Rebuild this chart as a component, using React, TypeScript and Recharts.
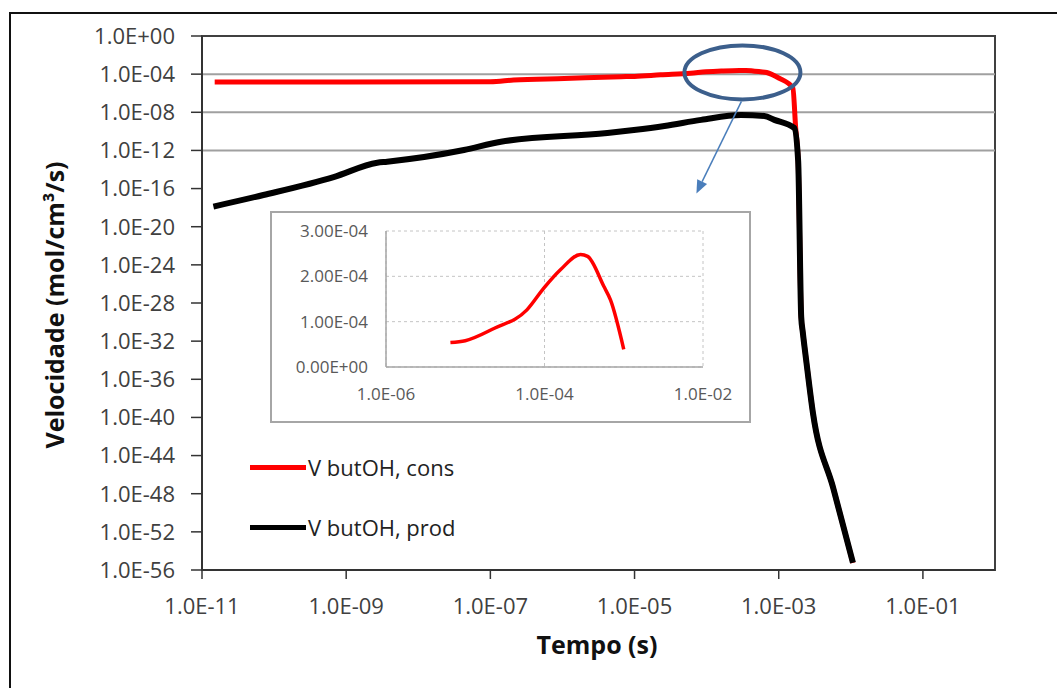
import React from 'react';
import {
  LineChart,
  Line,
  XAxis,
  YAxis,
  CartesianGrid,
  ReferenceLine,
  ReferenceArea,
  ReferenceDot,
  Legend,
} from 'recharts';

// tempo (s) e velocidade (mol/cm3/s) do butanol
const consTime = [1.5e-11, 1e-9, 1e-7, 2.1e-7, 1.06e-6, 6.5e-6, 1e-5, 2.3e-5, 6e-5, 9.8e-5, 1.6e-4, 2.85e-4, 3.5e-4, 5.6e-4, 6.8e-4, 1e-3, 1.57e-3, 1.72e-3];
const consRate = [1.5e-5, 1.5e-5, 1.6e-5, 2.4e-5, 3.5e-5, 5.4e-5, 5.8e-5, 8.5e-5, 1.26e-4, 1.74e-4, 2.15e-4, 2.48e-4, 2.44e-4, 1.78e-4, 1.48e-4, 3.9e-5, 3.5e-6, 2e-10];

const prodTime = [1.44e-11, 7.1e-11, 6.7e-10, 2.7e-9, 3.7e-9, 4.3e-8, 1.4e-7, 4.2e-6, 9.8e-6, 2.6e-5, 8.4e-5, 3.0e-4, 6.3e-4, 8.7e-4, 1.64e-3];
const prodRate = [1.3e-18, 2.1e-17, 1.6e-15, 5.2e-14, 6.6e-14, 1.1e-12, 8.3e-12, 6.8e-11, 1.4e-10, 3.7e-10, 1.6e-9, 5.2e-9, 4.1e-9, 1.6e-9, 2.3e-10];

// queda final, comum as duas curvas
const dropTime = [1.86e-3, 2.05e-3, 2.16e-3, 2.4e-3, 2.98e-3, 5.7e-3, 1.07e-2];
const dropRate = [8e-14, 3.5e-30, 7.9e-32, 1.1e-34, 3.1e-40, 4e-48, 5.7e-56];

const xTicks = [1e-11, 1e-9, 1e-7, 1e-5, 1e-3, 1e-1];
const yTicks = [1, 1e-4, 1e-8, 1e-12, 1e-16, 1e-20, 1e-24, 1e-28, 1e-32, 1e-36, 1e-40, 1e-44, 1e-48, 1e-52, 1e-56];
const gridRates = [1e-4, 1e-8, 1e-12];

const insetXTicks = [1e-6, 1e-4, 1e-2];
const insetYTicks = [0, 1e-4, 2e-4, 3e-4];

const toPoints = (ts: number[], vs: number[]) => ts.map((t, i) => ({ t, v: vs[i] }));
const consData = toPoints([...consTime, ...dropTime], [...consRate, ...dropRate]);
const prodData = toPoints([...prodTime, ...dropTime], [...prodRate, ...dropRate]);
const insetData = toPoints(consTime, consRate).filter((p) => p.t >= 6e-6 && p.t <= 1e-3);

const peak = insetData.reduce((a, b) => (b.v > a.v ? b : a));

const expPart = (e: number) => `E${e < 0 ? '-' : '+'}${String(Math.abs(e)).padStart(2, '0')}`;
const fmtLog = (v: number) => `1.0${expPart(Math.round(Math.log10(v)))}`;
const fmtLin = (v: number) => {
  if (v === 0) return '0.00E+00';
  const e = Math.floor(Math.log10(v) + 1e-9);
  return `${(v / 10 ** e).toFixed(2)}${expPart(e)}`;
};

const FONT = '"Open Sans", sans-serif';

// elipse de destaque no pico + seta para o grafico ampliado
const Callout = (props: any) => {
  const { cx, cy } = props;
  const sx = cx + 2;
  const sy = cy + 31;
  const tx = cx - 43;
  const ty = cy + 123;
  const len = Math.hypot(tx - sx, ty - sy);
  const ux = (tx - sx) / len;
  const uy = (ty - sy) / len;
  const bx = tx - ux * 13;
  const by = ty - uy * 13;
  const head = `${tx},${ty} ${bx - uy * 5.5},${by + ux * 5.5} ${bx + uy * 5.5},${by - ux * 5.5}`;
  return (
    <g>
      <ellipse cx={cx + 3} cy={cy + 2} rx={58} ry={27} fill="none" stroke="#3c5f8c" strokeWidth={4} />
      <line x1={sx} y1={sy} x2={bx} y2={by} stroke="#4a7ebb" strokeWidth={1.5} />
      <polygon points={head} fill="#4a7ebb" />
    </g>
  );
};

const LegendBox = (props: any) => {
  const { payload } = props;
  return (
    <div style={{ fontFamily: FONT, fontSize: 22, color: '#222' }}>
      {(payload || []).map((p: any) => (
        <div key={p.value} style={{ display: 'flex', alignItems: 'center', height: 60 }}>
          <span style={{ width: 56, height: 5, background: p.color, display: 'inline-block' }} />
          <span style={{ marginLeft: 2 }}>{p.value}</span>
        </div>
      ))}
    </div>
  );
};

const Inset = () => (
  <div
    style={{
      position: 'absolute',
      left: 270,
      top: 211,
      width: 477,
      height: 208,
      border: '2px solid #a6a6a6',
      background: '#fff',
    }}
  >
    <LineChart width={477} height={208} data={insetData} margin={{ top: 18, right: 46, bottom: 24, left: 0 }}>
      <CartesianGrid stroke="#c4c4c4" strokeDasharray="3 3" />
      <XAxis
        dataKey="t"
        type="number"
        scale="log"
        domain={[1e-6, 1e-2]}
        ticks={insetXTicks}
        interval={0}
        tickFormatter={fmtLog}
        allowDataOverflow
        height={30}
        tickSize={0}
        tickMargin={21}
        tick={{ fill: '#595959', fontSize: 17 }}
        axisLine={{ stroke: '#a6a6a6', strokeWidth: 1.5 }}
      />
      <YAxis
        type="number"
        domain={[0, 3e-4]}
        ticks={insetYTicks}
        interval={0}
        tickFormatter={fmtLin}
        width={114}
        tickSize={0}
        tickMargin={18}
        tick={{ fill: '#595959', fontSize: 17 }}
        axisLine={{ stroke: '#a6a6a6', strokeWidth: 1.5 }}
      />
      <Line dataKey="v" type="monotone" stroke="#ff0000" strokeWidth={3.5} dot={false} isAnimationActive={false} />
    </LineChart>
  </div>
);

const App = () => {
  return (
    <div
      style={{
        position: 'absolute',
        left: 0,
        top: 0,
        width: 1057,
        height: 688,
        overflow: 'hidden',
        background: '#fff',
        fontFamily: FONT,
      }}
    >
      <div
        style={{
          position: 'absolute',
          left: 9,
          top: 12,
          width: 1200,
          height: 800,
          borderTop: '2px solid #111',
          borderLeft: '2px solid #111',
        }}
      />
      <LineChart width={1057} height={688} margin={{ top: 36, right: 62, bottom: 58, left: 0 }}>
        <XAxis
          dataKey="t"
          type="number"
          scale="log"
          domain={[1e-11, 1]}
          ticks={xTicks}
          interval={0}
          tickFormatter={fmtLog}
          allowDataOverflow
          height={60}
          tickSize={9}
          tickMargin={19}
          tick={{ fill: '#404040', fontSize: 22 }}
          tickLine={{ stroke: '#333', strokeWidth: 1.5 }}
          axisLine={{ stroke: '#333', strokeWidth: 2 }}
        />
        <YAxis
          dataKey="v"
          type="number"
          scale="log"
          domain={[1e-56, 1]}
          ticks={yTicks}
          interval={0}
          tickFormatter={fmtLog}
          allowDataOverflow
          width={202}
          tickSize={11}
          tickMargin={16}
          tick={{ fill: '#404040', fontSize: 22 }}
          tickLine={{ stroke: '#333', strokeWidth: 1.5 }}
          axisLine={{ stroke: '#333', strokeWidth: 2 }}
        />
        <ReferenceArea x1={1e-11} x2={1} y1={1e-56} y2={1} fill="none" stroke="#404040" strokeWidth={2} />
        {gridRates.map((r) => (
          <ReferenceLine key={r} y={r} stroke="#a0a0a0" strokeWidth={2} />
        ))}
        <Legend
          layout="horizontal"
          verticalAlign="middle"
          align="center"
          content={<LegendBox />}
          wrapperStyle={{ left: 250, top: 437, width: 260 }}
        />
        <Line
          data={consData}
          dataKey="v"
          name="V butOH, cons"
          type="monotone"
          stroke="#ff0000"
          strokeWidth={5}
          dot={false}
          isAnimationActive={false}
        />
        <Line
          data={prodData}
          dataKey="v"
          name="V butOH, prod"
          type="monotone"
          stroke="#000000"
          strokeWidth={6}
          dot={false}
          isAnimationActive={false}
        />
        <ReferenceDot x={peak.t} y={peak.v} r={1} shape={<Callout />} ifOverflow="visible" />
      </LineChart>
      <Inset />
      <div
        style={{
          position: 'absolute',
          left: 397,
          width: 400,
          top: 632,
          textAlign: 'center',
          fontSize: 25,
          fontWeight: 700,
          lineHeight: 1,
          color: '#111',
        }}
      >
        Tempo (s)
      </div>
      <div
        style={{
          position: 'absolute',
          left: 54 - 200,
          top: 305 - 15,
          width: 400,
          height: 30,
          lineHeight: '30px',
          textAlign: 'center',
          fontSize: 25,
          fontWeight: 700,
          color: '#111',
          transform: 'rotate(-90deg)',
        }}
      >
        Velocidade (mol/cm³/s)
      </div>
    </div>
  );
};

export default App;
